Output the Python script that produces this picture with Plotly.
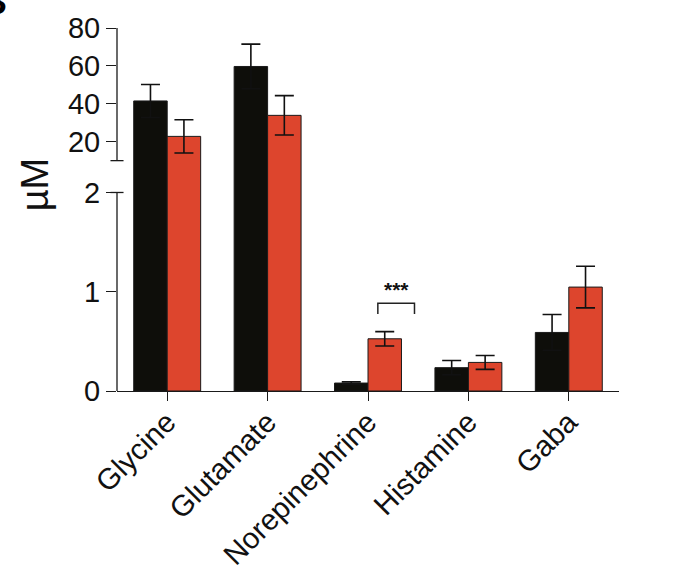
import plotly.graph_objects as go

# Neurotransmitter concentrations (µM), two groups with SEM
categories = ["Glycine", "Glutamate", "Norepinephrine", "Histamine", "Gaba"]
group_a = [41.5, 59.7, 0.08, 0.235, 0.59]
group_a_err = [8.7, 11.8, 0.012, 0.073, 0.18]
group_b = [22.8, 33.9, 0.526, 0.288, 1.047]
group_b_err = [8.8, 10.4, 0.072, 0.07, 0.21]

low_ticks = [0, 1, 2]
high_ticks = [20, 40, 60, 80]

# Broken y axis: 0-2 drawn linearly, then a gap, then 10-80 compressed
LOW_MAX = 2.0
HIGH_MIN, HIGH_MAX = 10.0, 80.0
GAP = 0.3208
K = 0.01909


def seg(v):
    if v <= LOW_MAX:
        return v
    return LOW_MAX + GAP + (v - HIGH_MIN) * K


def err_bounds(vals, errs):
    plus = [seg(v + e) - seg(v) for v, e in zip(vals, errs)]
    minus = [seg(v) - seg(v - e) for v, e in zip(vals, errs)]
    return plus, minus


BLACK = "#0e0e0a"
RED = "#dd452d"
FONT = "Liberation Sans, Arial, sans-serif"

fig = go.Figure()
for vals, errs, color in [(group_a, group_a_err, BLACK), (group_b, group_b_err, RED)]:
    plus, minus = err_bounds(vals, errs)
    fig.add_trace(go.Bar(
        x=categories,
        y=[seg(v) for v in vals],
        marker=dict(color=color, line=dict(color="#1a1a1a", width=1)),
        error_y=dict(type="data", array=plus, arrayminus=minus, symmetric=False,
                     color="#111111", thickness=1.6, width=9.5),
        showlegend=False,
    ))

y_top = seg(HIGH_MAX)
tickvals = low_ticks + [seg(t) for t in high_ticks]
ticktext = [str(t) for t in low_ticks] + [str(t) for t in high_ticks]

AX = "#1a1a1a"
shapes = [
    # lower axis segment and upper axis segment
    dict(type="line", xref="paper", yref="y", x0=0, x1=0, y0=0, y1=LOW_MAX,
         line=dict(color=AX, width=1.3)),
    dict(type="line", xref="paper", yref="y", x0=0, x1=0, y0=seg(HIGH_MIN), y1=y_top,
         line=dict(color=AX, width=1.3)),
    # end caps at the break
    dict(type="line", xref="paper", yref="y", x0=-0.013, x1=0.013,
         y0=seg(HIGH_MIN), y1=seg(HIGH_MIN), line=dict(color=AX, width=1.3)),
    dict(type="line", xref="paper", yref="y", x0=-0.013, x1=0.013,
         y0=LOW_MAX, y1=LOW_MAX, line=dict(color=AX, width=1.3)),
    # significance bracket
    dict(type="path", xref="x", yref="y",
         path="M 2.098 0.775 L 2.098 0.884 L 2.463 0.884 L 2.463 0.775",
         line=dict(color="#222222", width=1.5)),
]

annotations = [
    dict(text="<b>***</b>", x=2.28, y=1.02, xref="x", yref="y", showarrow=False,
         font=dict(family=FONT, size=21, color="#111111"), yanchor="middle"),
    dict(text="µM", x=-0.1643, y=0.568, xref="paper", yref="paper", showarrow=False,
         textangle=-90, font=dict(family=FONT, size=38, color="#111111"),
         xanchor="center", yanchor="middle"),
    dict(text="<b>B</b>", x=-0.216, y=1.01, xref="paper", yref="paper", showarrow=False,
         font=dict(family=FONT, size=36, color="#000000"), xanchor="right", yanchor="bottom"),
]

fig.update_layout(
    width=677, height=585,
    margin=dict(l=116.5, r=58.3, t=22.4, b=194.3, pad=0),
    paper_bgcolor="white", plot_bgcolor="white",
    barmode="group", bargap=1 / 3, bargroupgap=0,
    font=dict(family=FONT, color="#111111"),
    shapes=shapes, annotations=annotations,
    xaxis=dict(range=[-0.5, 4.5], showline=True, linecolor=AX, linewidth=1.3,
               ticks="outside", ticklen=9, tickwidth=1.3, tickcolor=AX,
               tickangle=-45, ticklabelstandoff=-8,
               tickfont=dict(family=FONT, size=29.5, color="#111111"),
               showgrid=False, zeroline=False),
    yaxis=dict(range=[0, y_top], tickvals=tickvals, ticktext=ticktext,
               showline=False, ticks="outside", ticklen=10, tickwidth=1.3, tickcolor=AX,
               tickfont=dict(family=FONT, size=29, color="#111111"),
               showgrid=False, zeroline=False),
)

fig.write_html("out.html")
